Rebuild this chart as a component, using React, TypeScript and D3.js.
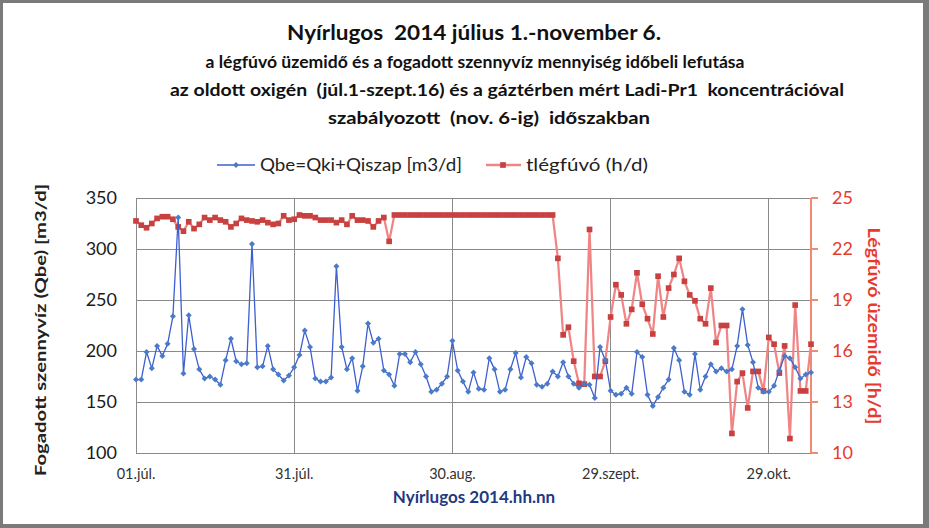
import React from 'react';
import * as d3 from 'd3';

const START = new Date(2014, 6, 1);
const END = new Date(2014, 10, 6);

// Qbe=Qki+Qiszap [m3/d], daily from 01.júl. to 06.nov.
const qbe = [
  172, 172, 199, 183, 205, 195, 207, 234, 331, 178, 235, 202, 182, 173, 175, 172, 167, 191, 212, 190, 187, 188,
  305, 184, 185, 205, 182, 177, 171, 176, 184, 196, 220, 204, 173, 170, 170, 174, 283, 204, 182, 193, 161, 185,
  227, 208, 212, 181, 177, 166, 197, 197, 189, 199, 187, 175, 160, 162, 168, 175, 210, 181, 170, 160, 179, 163,
  162, 193, 182, 160, 162, 182, 198, 174, 194, 188, 167, 165, 168, 180, 175, 189, 175, 168, 164, 168, 167, 154,
  204, 191, 161, 157, 158, 164, 158, 199, 194, 157, 146, 155, 164, 172, 203, 191, 160, 157, 197, 162, 175,
  187, 180, 183, 180, 182, 205, 241, 206, 189, 164, 160, 160, 166, 181, 195, 193, 184, 173, 177, 179,
];

// tlégfúvó (h/d)
const tlegfuvo = [
  23.65, 23.4, 23.25, 23.5, 23.8, 23.9, 23.9, 23.75, 23.3, 23.05, 23.6, 23.2, 23.45, 23.85, 23.7, 23.85, 23.7, 23.6, 23.3, 23.5, 23.8, 23.7,
  23.65, 23.6, 23.7, 23.55, 23.45, 23.5, 23.95, 23.7, 23.75, 24.0, 23.95, 23.95, 23.85, 23.7, 23.7, 23.7, 23.55, 23.7, 23.45, 23.95, 23.7, 23.7,
  23.65, 23.3, 23.65, 23.85, 22.45,
  24, 24, 24, 24, 24, 24, 24, 24, 24, 24, 24, 24, 24, 24, 24, 24, 24, 24, 24, 24, 24, 24, 24, 24, 24, 24, 24, 24, 24, 24, 24,
  21.45, 16.95, 17.4, 15.4, 14.1, 14.05, 23.15, 14.5, 14.5, 15.4, 18.0, 19.9, 19.3, 17.6, 18.45, 20.6, 18.75, 17.9, 17.0, 20.4,
  18.0, 19.7, 20.5, 21.45, 20.1, 19.3, 18.95, 17.9, 17.6, 19.7, 16.5, 17.5, 17.5, 11.15, 14.2, 14.7, 12.65, 14.8, 14.8, 13.65,
  16.8, 16.4, 14.7, 16.3, 10.85, 18.7, 13.65, 13.65, 16.4,
];

const xTickDates = [
  new Date(2014, 6, 1),
  new Date(2014, 6, 31),
  new Date(2014, 7, 30),
  new Date(2014, 8, 29),
  new Date(2014, 9, 29),
];
const xTickLabels = ['01.júl.', '31.júl.', '30.aug.', '29.szept.', '29.okt.'];
const leftTicks = [100, 150, 200, 250, 300, 350];
const rightTicks = [10, 13, 16, 19, 22, 25];

const titleLines = [
  'Nyírlugos  2014 július 1.-november 6.',
  'a légfúvó üzemidő és a fogadott szennyvíz mennyiség időbeli lefutása',
  'az oldott oxigén  (júl.1-szept.16) és a gáztérben mért Ladi-Pr1  koncentrációval',
  'szabályozott  (nov. 6-ig)  időszakban',
];
const seriesNames = ['Qbe=Qki+Qiszap [m3/d]', 'tlégfúvó (h/d)'];
const leftTitle = 'Fogadott szennyvíz (Qbe) [m3/d]';
const rightTitle = 'Légfúvó üzemidő [h/d]';
const xTitle = 'Nyírlugos 2014.hh.nn';

const FONT = 'Lato, "Open Sans", sans-serif';
const BLUE_LINE = '#3D5FCF';
const BLUE_MARK = '#4A7BC8';
const RED_LINE = '#F08585';
const RED_MARK = '#C8403F';
const RED_TEXT = '#E8392F';

export default function App() {
  const W = 929;
  const H = 528;
  const L = 136, R = 811, T = 198, B = 453;

  const x = d3.scaleTime().domain([START, END]).range([L, R]);
  const yL = d3.scaleLinear().domain([100, 350]).range([B, T]);
  const yR = d3.scaleLinear().domain([10, 25]).range([B, T]);

  const dates = qbe.map((_, i) => d3.timeDay.offset(START, i));

  const blueLine = d3
    .line<number>()
    .x((_, i) => x(dates[i]))
    .y((d) => yL(d))(qbe) as string;
  const redLine = d3
    .line<number>()
    .x((_, i) => x(dates[i]))
    .y((d) => yR(d))(tlegfuvo) as string;

  const diamond = d3.symbol().type(d3.symbolSquare).size(18)() as string;
  const square = d3.symbol().type(d3.symbolSquare).size(32)() as string;

  const titleCenters = [474, 475, 507, 489];
  const titleWidths = [374, 539, 674, 322];
  const titleY = [40, 68, 96, 124];
  const titleSizes = [21, 17, 17, 17];

  return (
    <svg
      width={W}
      height={H}
      style={{ position: 'absolute', left: 0, top: 0, background: '#fff' }}
      fontFamily={FONT}
    >
      {/* frame */}
      <rect x={0} y={0} width={W} height={H} fill="#7a7a7a" />
      <rect x={3} y={3} width={920} height={521} fill="#ffffff" />

      {/* title */}
      {titleLines.map((t, i) => (
        <text
          key={i}
          x={titleCenters[i]}
          y={titleY[i]}
          textAnchor="middle"
          fontWeight="bold"
          fontSize={titleSizes[i]}
          fill="#111"
          textLength={titleWidths[i]}
          lengthAdjust="spacingAndGlyphs"
          style={{ whiteSpace: 'pre' }}
        >
          {t}
        </text>
      ))}

      {/* legend */}
      <g>
        <line x1={217} x2={255} y1={165} y2={165} stroke={BLUE_LINE} strokeWidth={1.5} />
        <path d={diamond} transform="translate(236,165) rotate(45)" fill={BLUE_MARK} />
        <text x={260} y={171} fontSize={17} fill="#222" textLength={202} lengthAdjust="spacingAndGlyphs">
          {seriesNames[0]}
        </text>
        <line x1={486} x2={521} y1={165} y2={165} stroke={RED_LINE} strokeWidth={2.5} />
        <path d={square} transform="translate(503,165)" fill={RED_MARK} />
        <text x={526} y={171} fontSize={17} fill="#222" textLength={122} lengthAdjust="spacingAndGlyphs">
          {seriesNames[1]}
        </text>
      </g>

      {/* gridlines */}
      <g shapeRendering="crispEdges" stroke="#8a8a8a" strokeWidth={1}>
        {leftTicks.map((v) => (
          <line key={'h' + v} x1={L} x2={R} y1={yL(v)} y2={yL(v)} />
        ))}
        {xTickDates.map((d, i) => (
          <line key={'v' + i} x1={x(d)} x2={x(d)} y1={T} y2={B} />
        ))}
      </g>

      {/* right axis */}
      <g shapeRendering="crispEdges">
        <line x1={R} x2={R} y1={T} y2={B} stroke="#F08A70" strokeWidth={2} />
        {rightTicks.map((v) => (
          <line key={'rt' + v} x1={R} x2={R + 7} y1={yR(v)} y2={yR(v)} stroke="#F08A70" strokeWidth={1.5} />
        ))}
      </g>
      {rightTicks.map((v) => (
        <text key={'rl' + v} x={832} y={yR(v) + 6} fontSize={18} fill={RED_TEXT}>
          {v}
        </text>
      ))}

      {/* left axis labels */}
      {leftTicks.map((v) => (
        <text key={'ll' + v} x={117} y={yL(v) + 6} fontSize={18} fill="#1a1a1a" textAnchor="end">
          {v}
        </text>
      ))}

      {/* x labels */}
      {xTickDates.map((d, i) => (
        <text key={'xl' + i} x={x(d)} y={479} fontSize={14.5} fill="#333" textAnchor="middle">
          {xTickLabels[i]}
        </text>
      ))}

      {/* axis titles */}
      <text
        transform="translate(46,330) rotate(-90)"
        textAnchor="middle"
        fontSize={16}
        fontWeight="bold"
        fill="#222"
        textLength={292}
        lengthAdjust="spacingAndGlyphs"
      >
        {leftTitle}
      </text>
      <text
        transform="translate(868,326) rotate(90)"
        textAnchor="middle"
        fontSize={17}
        fontWeight="bold"
        fill={RED_TEXT}
        textLength={197}
        lengthAdjust="spacingAndGlyphs"
      >
        {rightTitle}
      </text>
      <text x={474} y={503} textAnchor="middle" fontSize={17} fontWeight="bold" fill="#1F3A80">
        {xTitle}
      </text>

      {/* red series */}
      <path d={redLine} fill="none" stroke={RED_LINE} strokeWidth={2.25} strokeLinejoin="round" />
      {tlegfuvo.map((v, i) => (
        <path key={'rm' + i} d={square} transform={`translate(${x(dates[i])},${yR(v)})`} fill={RED_MARK} />
      ))}

      {/* blue series */}
      <path d={blueLine} fill="none" stroke={BLUE_LINE} strokeWidth={1.3} strokeLinejoin="round" />
      {qbe.map((v, i) => (
        <path
          key={'bm' + i}
          d={diamond}
          transform={`translate(${x(dates[i])},${yL(v)}) rotate(45)`}
          fill={BLUE_MARK}
        />
      ))}
    </svg>
  );
}
